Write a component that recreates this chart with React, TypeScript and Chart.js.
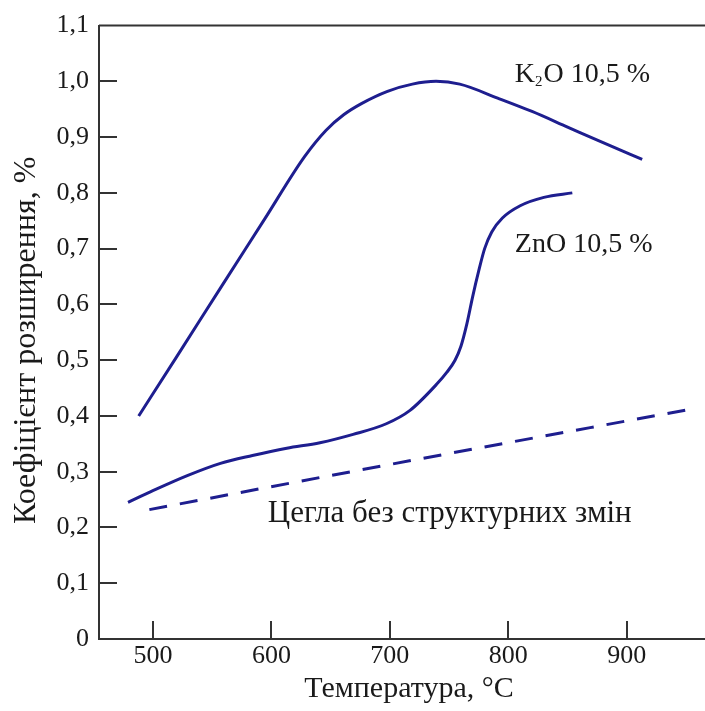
import React, { useEffect, useRef } from "react";
import { Chart, registerables } from "chart.js";

Chart.register(...registerables);

// ---- data ----
const k2oT = [488, 520, 559, 594, 628, 646, 661, 676, 698, 719, 739, 759, 791, 820, 850, 880, 913];
const k2oV = [0.4, 0.506, 0.636, 0.752, 0.865, 0.912, 0.94, 0.96, 0.982, 0.995, 1.0, 0.995, 0.97, 0.946, 0.918, 0.89, 0.86];

const znoT = [479, 500, 529, 557, 584, 613, 641, 669, 697, 717, 740, 748, 755, 760, 765, 770, 775, 780, 786, 795, 810, 830, 854];
const znoV = [0.245, 0.266, 0.293, 0.315, 0.329, 0.342, 0.352, 0.367, 0.386, 0.41, 0.458, 0.478, 0.5, 0.525, 0.565, 0.615, 0.66, 0.7, 0.73, 0.755, 0.777, 0.792, 0.8];

const brickT = [497, 700, 951];
const brickV = [0.232, 0.313, 0.411];

const xTicks = [500, 600, 700, 800, 900];
const xTickLabels = ["500", "600", "700", "800", "900"];
const yTicks = [0, 0.1, 0.2, 0.3, 0.4, 0.5, 0.6, 0.7, 0.8, 0.9, 1.0, 1.1];
const yTickLabels = ["0", "0,1", "0,2", "0,3", "0,4", "0,5", "0,6", "0,7", "0,8", "0,9", "1,0", "1,1"];

const xTitle = "Температура, °C";
const yTitle = "Коефіцієнт розширення, %";
const brickLabel = "Цегла без структурних змін";
const znoLabel = "ZnO 10,5 %";
const k2oLabelParts = ["K", "2", "O 10,5 %"];

// label anchors in data units [T, value]
const k2oLabelAt = [805.5, 1.0125];
const znoLabelAt = [805.5, 0.707];
const brickLabelAt = [597, 0.225];

const FONT = "Liberation Serif";
const LINE = "#1e1e8f";
const AXIS = "#333333";
const TEXT = "#1a1a1a";

const pts = (xs: number[], ys: number[]) => xs.map((x, i) => ({ x, y: ys[i] }));

const decorPlugin = {
  id: "decor",
  afterDraw(chart: any) {
    const { ctx, chartArea } = chart;
    const xs = chart.scales.x;
    const ys = chart.scales.y;
    ctx.save();
    ctx.strokeStyle = AXIS;
    ctx.lineWidth = 2;
    // top frame line
    ctx.beginPath();
    ctx.moveTo(chartArea.left, chartArea.top);
    ctx.lineTo(chartArea.right, chartArea.top);
    ctx.stroke();
    // inward ticks
    const tl = 18;
    xTicks.forEach((v) => {
      const px = Math.round(xs.getPixelForValue(v));
      ctx.beginPath();
      ctx.moveTo(px, chartArea.bottom);
      ctx.lineTo(px, chartArea.bottom - tl);
      ctx.stroke();
    });
    yTicks.forEach((v) => {
      if (v === 0 || v > 1.05) return;
      const py = Math.round(ys.getPixelForValue(v));
      ctx.beginPath();
      ctx.moveTo(chartArea.left, py);
      ctx.lineTo(chartArea.left + tl, py);
      ctx.stroke();
    });

    ctx.fillStyle = TEXT;
    ctx.textBaseline = "middle";
    // annotations
    ctx.textAlign = "left";
    let x = xs.getPixelForValue(k2oLabelAt[0]);
    let y = ys.getPixelForValue(k2oLabelAt[1]);
    ctx.font = `28px "${FONT}"`;
    ctx.fillText(k2oLabelParts[0], x, y);
    x += ctx.measureText(k2oLabelParts[0]).width;
    ctx.font = `15px "${FONT}"`;
    ctx.fillText(k2oLabelParts[1], x, y + 8);
    x += ctx.measureText(k2oLabelParts[1]).width + 1;
    ctx.font = `28px "${FONT}"`;
    ctx.fillText(k2oLabelParts[2], x, y);

    ctx.fillText(znoLabel, xs.getPixelForValue(znoLabelAt[0]), ys.getPixelForValue(znoLabelAt[1]));
    ctx.font = `31px "${FONT}"`;
    ctx.fillText(brickLabel, xs.getPixelForValue(brickLabelAt[0]), ys.getPixelForValue(brickLabelAt[1]));

    // axis titles
    ctx.textAlign = "center";
    ctx.font = `30px "${FONT}"`;
    ctx.fillText(xTitle, (chartArea.left + chartArea.right) / 2 + 7, chartArea.bottom + 50);
    ctx.font = `32px "${FONT}"`;
    ctx.translate(27, (chartArea.top + chartArea.bottom) / 2 + 8);
    ctx.rotate(-Math.PI / 2);
    ctx.fillText(yTitle, 0, 0);
    ctx.restore();
  },
};

export default function App() {
  const ref = useRef<HTMLCanvasElement | null>(null);
  useEffect(() => {
    if (!ref.current) return;
    const ds = (data: any[], dash: number[] = []) => ({
      data,
      borderColor: LINE,
      borderWidth: 3,
      borderDash: dash,
      pointRadius: 0,
      fill: false,
      tension: 0.4,
      cubicInterpolationMode: "monotone" as const,
      borderCapStyle: "butt" as const,
    });
    const chart = new Chart(ref.current, {
      type: "line",
      data: {
        datasets: [
          ds(pts(k2oT, k2oV)),
          ds(pts(znoT, znoV)),
          ds(pts(brickT, brickV), [18, 13]),
        ],
      },
      options: {
        animation: false,
        responsive: false,
        devicePixelRatio: 1,
        layout: { padding: { left: 0, right: 0, top: 24, bottom: 0 } },
        plugins: { legend: { display: false }, tooltip: { enabled: false } },
        scales: {
          x: {
            type: "linear",
            min: 454.5,
            max: 966,
            afterBuildTicks: (s: any) => {
              s.ticks = xTicks.map((value) => ({ value }));
            },
            afterFit: (s: any) => {
              s.height = 72;
            },
            grid: { display: false, drawTicks: false },
            border: { display: true, color: AXIS, width: 2 },
            ticks: {
              padding: 2,
              color: TEXT,
              font: { family: FONT, size: 26 },
              maxRotation: 0,
              autoSkip: false,
              callback: (v: any) => xTickLabels[xTicks.indexOf(Number(v))] ?? "",
            },
          },
          y: {
            type: "linear",
            min: 0,
            max: 1.1,
            afterBuildTicks: (s: any) => {
              s.ticks = yTicks.map((value) => ({ value }));
            },
            afterFit: (s: any) => {
              s.width = 99;
            },
            grid: { display: false, drawTicks: false },
            border: { display: true, color: AXIS, width: 2 },
            ticks: {
              padding: 10,
              color: TEXT,
              font: { family: FONT, size: 26 },
              autoSkip: false,
              callback: (v: any) => yTickLabels[yTicks.indexOf(Number(v))] ?? "",
            },
          },
        },
      },
      plugins: [decorPlugin],
    });
    return () => chart.destroy();
  }, []);
  return (
    <div style={{ position: "fixed", left: 0, top: 0, width: 705, height: 711, background: "#fff" }}>
      <canvas ref={ref} width={705} height={711} style={{ width: 705, height: 711, display: "block" }} />
    </div>
  );
}
